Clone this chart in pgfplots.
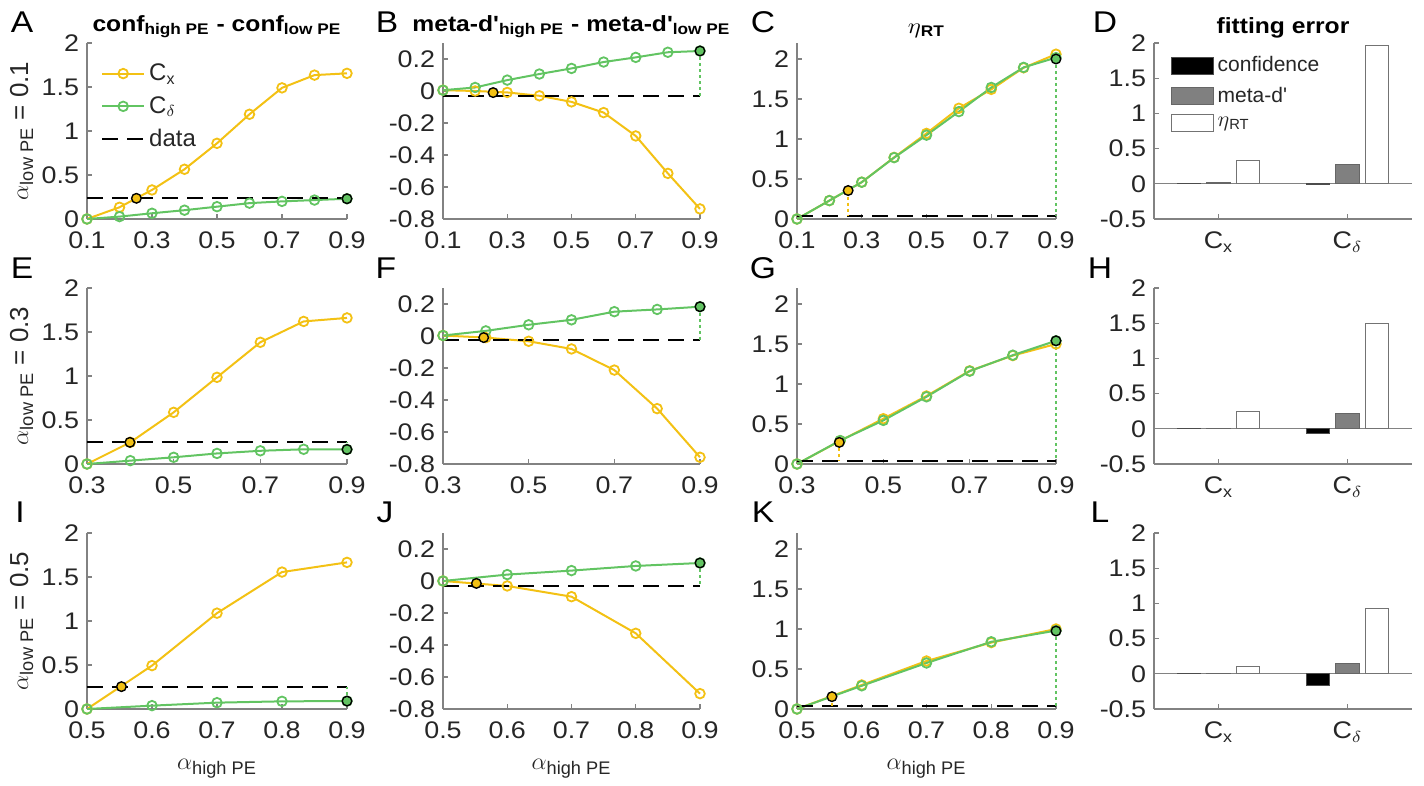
\documentclass[border=0pt]{standalone}
\usepackage{fontspec}
\setmainfont{Liberation Sans}
\usepackage{pgfplots}
\pgfplotsset{compat=1.18}

\definecolor{cy}{RGB}{243,193,20}
\definecolor{cg}{RGB}{98,196,98}
\definecolor{tx}{RGB}{38,38,38}
\definecolor{ax}{RGB}{130,130,130}
\definecolor{bargray}{RGB}{128,128,128}

\newcommand\tickfont{\fontsize{12}{14}\selectfont}
\newcommand\md{meta-d\textquotesingle}

\tikzset{letter/.style={font=\fontsize{15}{18}\selectfont, text=black, xscale=1.12}}

\pgfplotsset{
  panel/.style={scale only axis, height=88pt, width=129pt,
    axis lines*=left, axis line style={ax, line width=0.6pt},
    tick align=inside, major tick length=2.5pt,
    every tick/.style={ax, line width=0.6pt},
    tick label style={font=\tickfont, text=tx, xscale=1.12},
    xticklabel style={yshift=-3pt},
    label style={font=\fontsize{13}{15}\selectfont, text=tx},
    xlabel style={yshift=-3pt},
    ylabel style={yshift=-3pt},
    title style={font=\bfseries\fontsize{11}{13}\selectfont, text=black, xscale=1.12, yshift=-7pt},
    legend style={draw=none, fill=none, font=\tickfont, text=tx},
    legend cell align=left,
    clip=false},
  r1/.style={xmin=0.1, xmax=0.9, xtick={0.1,0.3,0.5,0.7,0.9}, xticklabels={0.1,0.3,0.5,0.7,0.9}},
  r2/.style={xmin=0.3, xmax=0.9, xtick={0.3,0.5,0.7,0.9}, xticklabels={0.3,0.5,0.7,0.9}},
  r3/.style={xmin=0.5, xmax=0.9, xtick={0.5,0.6,0.7,0.8,0.9}, xticklabels={0.5,0.6,0.7,0.8,0.9}},
  cconf/.style={ymin=0, ymax=2, ytick={0,0.5,1,1.5,2}, yticklabels={0,0.5,1,1.5,2}},
  cmeta/.style={ymin=-0.8, ymax=0.3, ytick={-0.8,-0.6,-0.4,-0.2,0,0.2}, yticklabels={-0.8,-0.6,-0.4,-0.2,0,0.2}},
  ceta/.style={ymin=0, ymax=2.2, ytick={0,0.5,1,1.5,2}, yticklabels={0,0.5,1,1.5,2}},
  cbar/.style={xmin=0.5, xmax=2.5, xtick={1,2}, xticklabels={C\textsubscript{x},C$_\delta$},
    ymin=-0.5, ymax=2, ytick={-0.5,0,0.5,1,1.5,2}, yticklabels={-0.5,0,0.5,1,1.5,2}},
  yel/.style={cy, line width=1pt, mark=o, mark size=2.4pt, mark options={line width=0.9pt, solid}},
  grn/.style={cg, line width=1pt, mark=o, mark size=2.4pt, mark options={line width=0.9pt, solid}},
  dat/.style={black, line width=1pt, dash pattern=on 8pt off 4.5pt},
  besty/.style={only marks, mark=*, mark size=2.4pt, mark options={fill=cy, draw=black, line width=0.7pt}, forget plot},
  bestg/.style={only marks, mark=*, mark size=2.4pt, mark options={fill=cg, draw=black, line width=0.7pt}, forget plot},
  doty/.style={cy, line width=0.9pt, dash pattern=on 1.5pt off 1.5pt, forget plot},
  dotg/.style={cg, line width=0.9pt, dash pattern=on 1.5pt off 1.5pt, forget plot},
  barleg/.style={legend image code/.code={\draw[##1] (0pt,-4.2pt) rectangle (21pt,4.2pt);}},
  bconf/.style={ybar, bar width=0.18, bar shift=-0.23, fill=black, draw=black!70, line width=0.5pt, barleg},
  bmeta/.style={ybar, bar width=0.18, bar shift=0, fill=bargray, draw=black!60, line width=0.5pt, barleg},
  beta/.style={ybar, bar width=0.18, bar shift=0.23, fill=white, draw=black!55, line width=0.5pt, barleg},
}

\begin{document}
\begin{tikzpicture}
\path[use as bounding box] (0,0) rectangle (712pt,393pt);

% panel letters
\node[letter] at (11pt,382pt) {A};
\node[letter] at (193.5pt,382pt) {B};
\node[letter] at (381.5pt,382pt) {C};
\node[letter] at (552.5pt,382pt) {D};
\node[letter] at (11pt,259pt) {E};
\node[letter] at (193pt,259pt) {F};
\node[letter] at (381.5pt,259pt) {G};
\node[letter] at (550pt,259pt) {H};
\node[letter] at (10pt,137pt) {I};
\node[letter] at (192.5pt,137pt) {J};
\node[letter] at (381.5pt,137pt) {K};
\node[letter] at (550pt,137pt) {L};

% ---------- row 1 ----------
\begin{axis}[panel, r1, cconf, at={(43.5pt,283.5pt)}, anchor=south west, width=130pt,
  title={conf\textsubscript{high PE} - conf\textsubscript{low PE}},
  ylabel={$\alpha$\textsubscript{low PE} = 0.1},
  legend style={at={(0.03,0.93)}, anchor=north west, row sep=2.5pt},
  legend image code/.code={\draw[mark repeat=2,mark phase=2,#1] plot coordinates {(0pt,0pt)(10.5pt,0pt)(21pt,0pt)};}]
\addplot[yel] coordinates {(0.1,0)(0.2,0.133)(0.3,0.33)(0.4,0.565)(0.5,0.86)(0.6,1.19)(0.7,1.49)(0.8,1.635)(0.9,1.655)};
\addlegendentry{C\textsubscript{x}}
\addplot[grn] coordinates {(0.1,0)(0.2,0.027)(0.3,0.065)(0.4,0.10)(0.5,0.14)(0.6,0.18)(0.7,0.20)(0.8,0.215)(0.9,0.23)};
\addlegendentry{C$_\delta$}
\addplot[dat] coordinates {(0.1,0.235)(0.9,0.235)};
\addlegendentry{data}
\addplot[besty] coordinates {(0.252,0.235)};
\addplot[bestg] coordinates {(0.9,0.23)};
\end{axis}

\begin{axis}[panel, r1, cmeta, at={(221.5pt,283.5pt)}, anchor=south west, width=128.5pt,
  title={\md\textsubscript{high PE} - \md\textsubscript{low PE}}]
\addplot[yel] coordinates {(0.1,0.005)(0.2,0)(0.3,-0.009)(0.4,-0.03)(0.5,-0.068)(0.6,-0.135)(0.7,-0.281)(0.8,-0.515)(0.9,-0.737)};
\addplot[grn] coordinates {(0.1,0.005)(0.2,0.022)(0.3,0.068)(0.4,0.106)(0.5,0.141)(0.6,0.181)(0.7,0.21)(0.8,0.242)(0.9,0.25)};
\addplot[dat] coordinates {(0.1,-0.03)(0.9,-0.03)};
\addplot[doty] coordinates {(0.256,-0.01)(0.256,-0.03)};
\addplot[dotg] coordinates {(0.9,0.25)(0.9,-0.03)};
\addplot[besty] coordinates {(0.256,-0.01)};
\addplot[bestg] coordinates {(0.9,0.25)};
\end{axis}

\begin{axis}[panel, r1, ceta, at={(398.5pt,283.5pt)}, anchor=south west, width=129.5pt,
  title={$\eta$\textsubscript{RT}}]
\addplot[yel] coordinates {(0.1,0)(0.2,0.23)(0.3,0.46)(0.4,0.77)(0.5,1.07)(0.6,1.384)(0.7,1.62)(0.8,1.89)(0.9,2.06)};
\addplot[grn] coordinates {(0.1,0)(0.2,0.23)(0.3,0.46)(0.4,0.767)(0.5,1.048)(0.6,1.342)(0.7,1.644)(0.8,1.895)(0.9,2.017)};
\addplot[dat] coordinates {(0.1,0.04)(0.9,0.04)};
\addplot[doty] coordinates {(0.258,0.356)(0.258,0.04)};
\addplot[dotg] coordinates {(0.9,2.0)(0.9,0.04)};
\addplot[besty] coordinates {(0.258,0.356)};
\addplot[bestg] coordinates {(0.9,2.0)};
\end{axis}

\begin{axis}[panel, cbar, at={(577pt,283.5pt)}, anchor=south west, width=129pt,
  title={fitting error},
  legend style={at={(0.04,0.97)}, anchor=north west, row sep=2pt, font=\fontsize{10.5}{12}\selectfont}]
\draw[ax, line width=0.6pt] (axis cs:0.5,0) -- (axis cs:2.5,0);
\addplot[bconf] coordinates {(1,0.005)(2,-0.005)};
\addlegendentry{confidence}
\addplot[bmeta] coordinates {(1,0.012)(2,0.28)};
\addlegendentry{\md}
\addplot[beta] coordinates {(1,0.33)(2,1.97)};
\addlegendentry{$\eta$\textsubscript{RT}}
\end{axis}

% ---------- row 2 ----------
\begin{axis}[panel, r2, cconf, at={(43.5pt,161pt)}, anchor=south west, width=130pt,
  ylabel={$\alpha$\textsubscript{low PE} = 0.3}]
\addplot[yel] coordinates {(0.3,0)(0.4,0.246)(0.5,0.587)(0.6,0.985)(0.7,1.383)(0.8,1.62)(0.9,1.66)};
\addplot[grn] coordinates {(0.3,0)(0.4,0.038)(0.5,0.076)(0.6,0.12)(0.7,0.15)(0.8,0.167)(0.9,0.165)};
\addplot[dat] coordinates {(0.3,0.246)(0.9,0.246)};
\addplot[dotg] coordinates {(0.9,0.165)(0.9,0.246)};
\addplot[besty] coordinates {(0.399,0.246)};
\addplot[bestg] coordinates {(0.9,0.165)};
\end{axis}

\begin{axis}[panel, r2, cmeta, at={(221.5pt,161pt)}, anchor=south west, width=128.5pt]
\addplot[yel] coordinates {(0.3,0.003)(0.4,-0.01)(0.5,-0.033)(0.6,-0.081)(0.7,-0.213)(0.8,-0.454)(0.9,-0.758)};
\addplot[grn] coordinates {(0.3,0.003)(0.4,0.032)(0.5,0.07)(0.6,0.101)(0.7,0.152)(0.8,0.166)(0.9,0.183)};
\addplot[dat] coordinates {(0.3,-0.028)(0.9,-0.028)};
\addplot[dotg] coordinates {(0.9,0.183)(0.9,-0.028)};
\addplot[besty] coordinates {(0.395,-0.01)};
\addplot[bestg] coordinates {(0.9,0.183)};
\end{axis}

\begin{axis}[panel, r2, ceta, at={(398.5pt,161pt)}, anchor=south west, width=129.5pt]
\addplot[yel] coordinates {(0.3,0)(0.4,0.29)(0.5,0.566)(0.6,0.85)(0.7,1.165)(0.8,1.355)(0.9,1.50)};
\addplot[grn] coordinates {(0.3,0)(0.4,0.293)(0.5,0.545)(0.6,0.84)(0.7,1.16)(0.8,1.36)(0.9,1.54)};
\addplot[dat] coordinates {(0.3,0.04)(0.9,0.04)};
\addplot[doty] coordinates {(0.398,0.27)(0.398,0.04)};
\addplot[dotg] coordinates {(0.9,1.54)(0.9,0.04)};
\addplot[besty] coordinates {(0.398,0.27)};
\addplot[bestg] coordinates {(0.9,1.54)};
\end{axis}

\begin{axis}[panel, cbar, at={(577pt,161pt)}, anchor=south west, width=129pt]
\draw[ax, line width=0.6pt] (axis cs:0.5,0) -- (axis cs:2.5,0);
\addplot[bconf] coordinates {(1,0.003)(2,-0.07)};
\addplot[bmeta] coordinates {(1,0.01)(2,0.213)};
\addplot[beta] coordinates {(1,0.24)(2,1.50)};
\end{axis}

% ---------- row 3 ----------
\begin{axis}[panel, r3, cconf, at={(43.5pt,38.5pt)}, anchor=south west, width=130pt,
  ylabel={$\alpha$\textsubscript{low PE} = 0.5},
  xlabel={$\alpha$\textsubscript{high PE}}]
\addplot[yel] coordinates {(0.5,0)(0.6,0.493)(0.7,1.089)(0.8,1.556)(0.9,1.666)};
\addplot[grn] coordinates {(0.5,0)(0.6,0.038)(0.7,0.072)(0.8,0.087)(0.9,0.09)};
\addplot[dat] coordinates {(0.5,0.254)(0.9,0.254)};
\addplot[dotg] coordinates {(0.9,0.09)(0.9,0.254)};
\addplot[besty] coordinates {(0.553,0.254)};
\addplot[bestg] coordinates {(0.9,0.09)};
\end{axis}

\begin{axis}[panel, r3, cmeta, at={(221.5pt,38.5pt)}, anchor=south west, width=128.5pt,
  xlabel={$\alpha$\textsubscript{high PE}}]
\addplot[yel] coordinates {(0.5,0)(0.6,-0.031)(0.7,-0.098)(0.8,-0.327)(0.9,-0.704)};
\addplot[grn] coordinates {(0.5,0)(0.6,0.04)(0.7,0.065)(0.8,0.094)(0.9,0.1125)};
\addplot[dat] coordinates {(0.5,-0.03)(0.9,-0.03)};
\addplot[dotg] coordinates {(0.9,0.1125)(0.9,-0.03)};
\addplot[besty] coordinates {(0.552,-0.015)};
\addplot[bestg] coordinates {(0.9,0.1125)};
\end{axis}

\begin{axis}[panel, r3, ceta, at={(398.5pt,38.5pt)}, anchor=south west, width=129.5pt,
  xlabel={$\alpha$\textsubscript{high PE}}]
\addplot[yel] coordinates {(0.5,0)(0.6,0.30)(0.7,0.60)(0.8,0.83)(0.9,1.0)};
\addplot[grn] coordinates {(0.5,0)(0.6,0.29)(0.7,0.575)(0.8,0.84)(0.9,0.98)};
\addplot[dat] coordinates {(0.5,0.04)(0.9,0.04)};
\addplot[doty] coordinates {(0.554,0.154)(0.554,0.04)};
\addplot[dotg] coordinates {(0.9,0.975)(0.9,0.04)};
\addplot[besty] coordinates {(0.554,0.154)};
\addplot[bestg] coordinates {(0.9,0.975)};
\end{axis}

\begin{axis}[panel, cbar, at={(577pt,38.5pt)}, anchor=south west, width=129pt]
\draw[ax, line width=0.6pt] (axis cs:0.5,0) -- (axis cs:2.5,0);
\addplot[bconf] coordinates {(1,0.005)(2,-0.165)};
\addplot[bmeta] coordinates {(1,0.008)(2,0.142)};
\addplot[beta] coordinates {(1,0.11)(2,0.93)};
\end{axis}
\end{tikzpicture}
\end{document}
